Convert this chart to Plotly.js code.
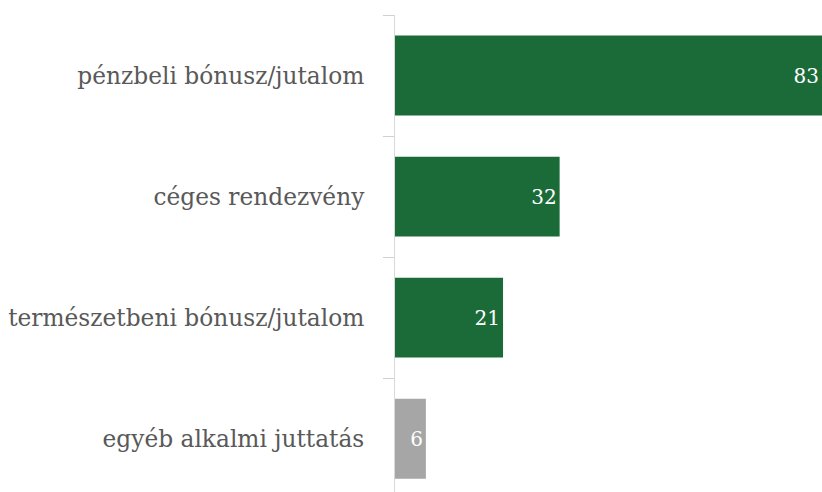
<!DOCTYPE html>
<html>
<head>
<meta charset="utf-8">
<script src="https://cdn.plot.ly/plotly-3.0.1.min.js"></script>
<style>html,body{margin:0;padding:0;background:#fff;}#chart{width:822px;height:492px;}</style>
</head>
<body>
<div id="chart"></div>
<script>
const categories = ["pénzbeli bónusz/jutalom", "céges rendezvény", "természetbeni bónusz/jutalom", "egyéb alkalmi juttatás"];
const values = [83, 32, 21, 6];
const barColors = ["#1b6b38", "#1b6b38", "#1b6b38", "#a6a6a6"];

const trace = {
  type: "bar",
  orientation: "h",
  y: categories,
  x: values,
  text: values.map(String),
  textposition: "inside",
  insidetextanchor: "end",
  textfont: {family: "DejaVu Serif", size: 20, color: "#ffffff"},
  marker: {color: barColors, line: {width: 0}},
  hoverinfo: "none",
  cliponaxis: false
};

const layout = {
  width: 822,
  height: 492,
  margin: {l: 395, r: 0, t: 15, b: 0, pad: 0},
  paper_bgcolor: "#ffffff",
  plot_bgcolor: "#ffffff",
  showlegend: false,
  bargap: 0.34,
  xaxis: {
    visible: false,
    range: [0, 83],
    fixedrange: true
  },
  yaxis: {
    type: "category",
    range: [3.44, -0.5],
    showline: true,
    linecolor: "#d9d9d9",
    linewidth: 1,
    ticks: "outside",
    tickson: "boundaries",
    ticklen: 11,
    tickcolor: "#d0d0d0",
    tickwidth: 1,
    showgrid: false,
    zeroline: false,
    ticklabelstandoff: 25,
    tickfont: {family: "DejaVu Serif", size: 23.3, color: "#595959"},
    automargin: false,
    fixedrange: true
  }
};

Plotly.newPlot("chart", [trace], layout, {displayModeBar: false, staticPlot: true});
</script>
</body>
</html>
